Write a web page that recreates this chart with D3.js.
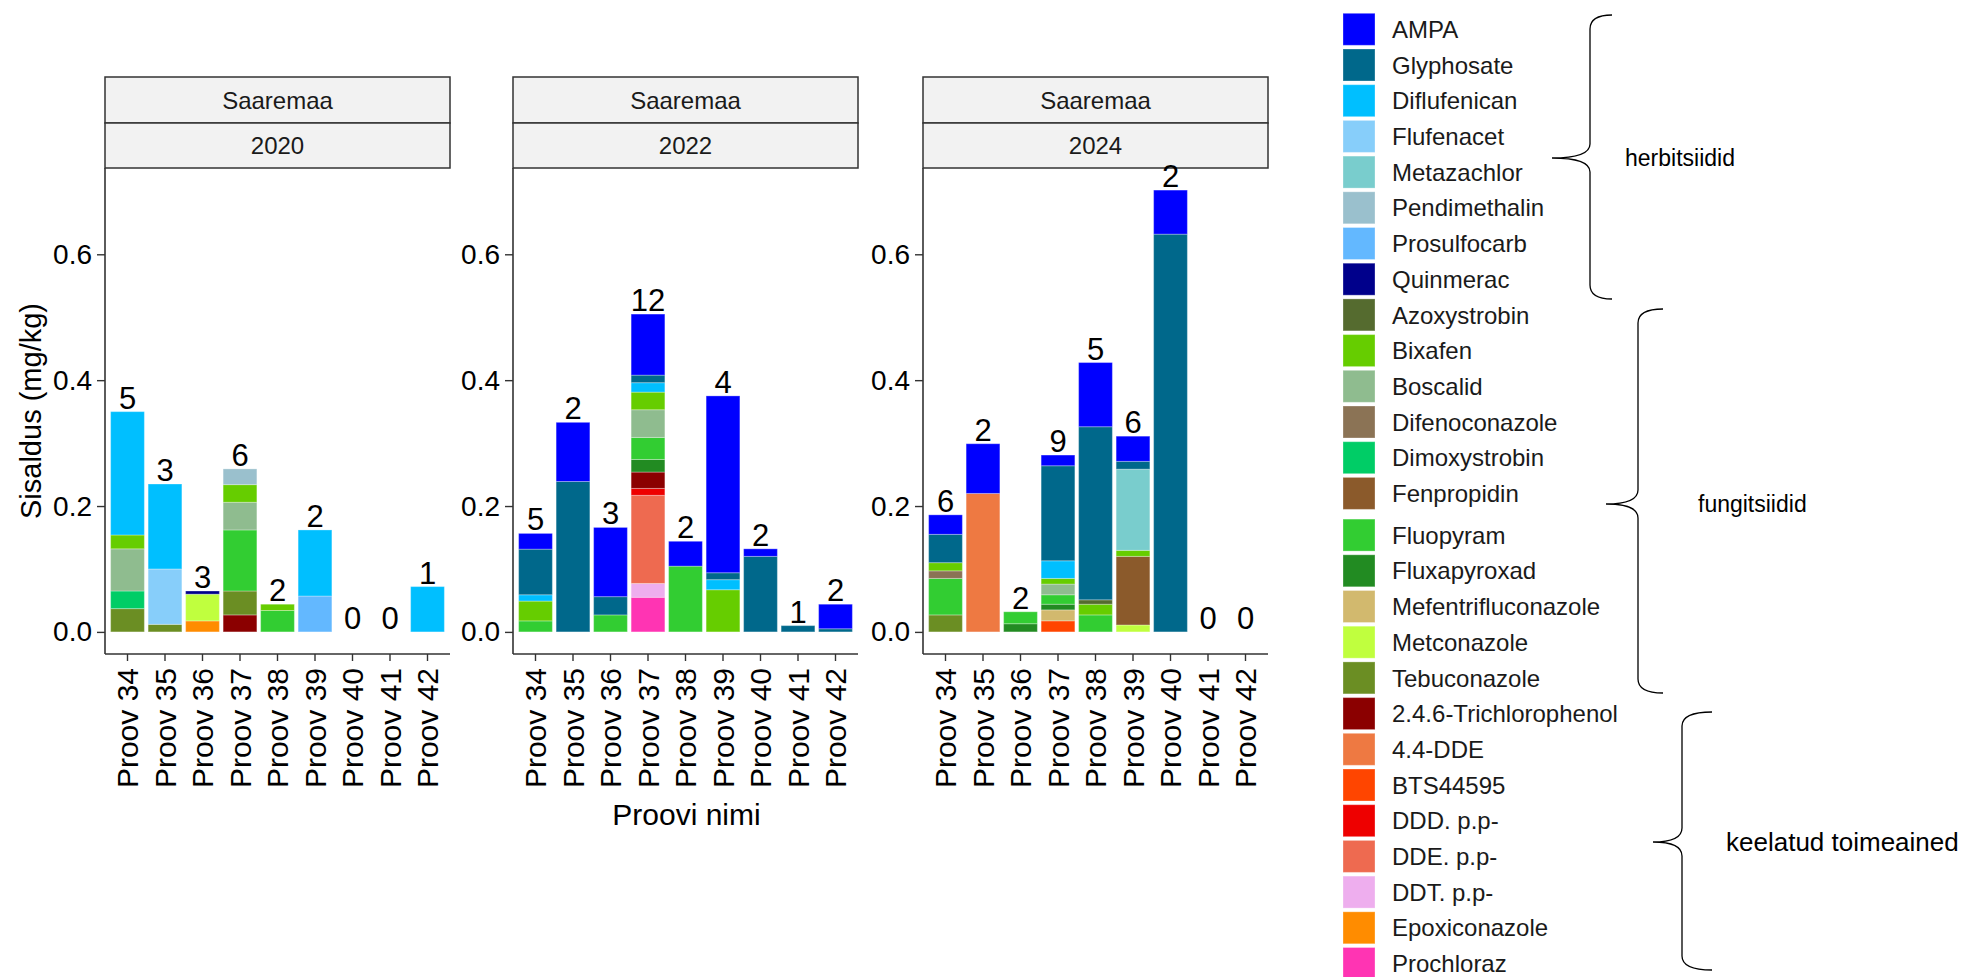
<!DOCTYPE html>
<html><head><meta charset="utf-8">
<script src="https://cdn.jsdelivr.net/npm/d3@7"></script>
<style>body{margin:0;background:#fff} svg{display:block} text{font-family:"Liberation Sans",Arial,sans-serif}</style>
</head><body><svg id="c" width="1975" height="977"></svg>
<script>
const samples = ["Proov 34","Proov 35","Proov 36","Proov 37","Proov 38","Proov 39","Proov 40","Proov 41","Proov 42"];
const region = "Saaremaa";
const years = ["2020","2022","2024"];
const compounds = ["AMPA","Glyphosate","Diflufenican","Flufenacet","Metazachlor","Pendimethalin","Prosulfocarb","Quinmerac",
  "Azoxystrobin","Bixafen","Boscalid","Difenoconazole","Dimoxystrobin","Fenpropidin","Fluopyram","Fluxapyroxad",
  "Mefentrifluconazole","Metconazole","Tebuconazole","2.4.6-Trichlorophenol","4.4-DDE","BTS44595","DDD. p.p-",
  "DDE. p.p-","DDT. p.p-","Epoxiconazole","Prochloraz"];
const colors = ["#0000FF","#00688B","#00BFFF","#87CEFA","#79CDCD","#9AC0CD","#63B8FF","#00008B",
  "#556B2F","#66CD00","#8FBC8F","#8B7355","#00CD66","#8B5A2B","#32CD32","#228B22",
  "#D2B96E","#C0FF3E","#6B8E23","#8B0000","#EE7942","#FF4500","#EE0000",
  "#EE6A50","#EEAEEE","#FF8C00","#FF34B3"];
const groupLabels = ["herbitsiidid","fungitsiidid","keelatud toimeained"];
const yTicks = [0, 0.2, 0.4, 0.6];
const yTitle = "Sisaldus (mg/kg)";
const xTitle = "Proovi nimi";

const counts2020 = [5,3,3,6,2,2,0,0,1];
const counts2022 = [5,2,3,12,2,4,2,1,2];
const counts2024 = [6,2,2,9,5,6,2,0,0];

const values2020 = [
  ["Proov 34","Tebuconazole",0.037],["Proov 34","Dimoxystrobin",0.028],["Proov 34","Boscalid",0.067],["Proov 34","Bixafen",0.022],["Proov 34","Diflufenican",0.196],
  ["Proov 35","Tebuconazole",0.012],["Proov 35","Flufenacet",0.088],["Proov 35","Diflufenican",0.135],
  ["Proov 36","Epoxiconazole",0.0175],["Proov 36","Metconazole",0.0425],["Proov 36","Quinmerac",0.005],
  ["Proov 37","2.4.6-Trichlorophenol",0.027],["Proov 37","Tebuconazole",0.038],["Proov 37","Fluopyram",0.097],["Proov 37","Boscalid",0.044],["Proov 37","Bixafen",0.028],["Proov 37","Pendimethalin",0.025],
  ["Proov 38","Fluopyram",0.034],["Proov 38","Bixafen",0.010],
  ["Proov 39","Prosulfocarb",0.057],["Proov 39","Diflufenican",0.105],
  ["Proov 42","Diflufenican",0.072]
];
const values2022 = [
  ["Proov 34","Fluopyram",0.0175],["Proov 34","Bixafen",0.0315],["Proov 34","Diflufenican",0.010],["Proov 34","Glyphosate",0.0725],["Proov 34","AMPA",0.025],
  ["Proov 35","Glyphosate",0.239],["Proov 35","AMPA",0.094],
  ["Proov 36","Fluopyram",0.027],["Proov 36","Glyphosate",0.029],["Proov 36","AMPA",0.110],
  ["Proov 37","Prochloraz",0.055],["Proov 37","DDT. p.p-",0.022],["Proov 37","DDE. p.p-",0.140],["Proov 37","DDD. p.p-",0.011],["Proov 37","2.4.6-Trichlorophenol",0.026],
  ["Proov 37","Fluxapyroxad",0.020],["Proov 37","Fluopyram",0.035],["Proov 37","Boscalid",0.044],["Proov 37","Bixafen",0.028],["Proov 37","Diflufenican",0.015],["Proov 37","Glyphosate",0.012],["Proov 37","AMPA",0.097],
  ["Proov 38","Fluopyram",0.1045],["Proov 38","AMPA",0.0395],
  ["Proov 39","Bixafen",0.067],["Proov 39","Diflufenican",0.016],["Proov 39","Glyphosate",0.011],["Proov 39","AMPA",0.281],
  ["Proov 40","Glyphosate",0.120],["Proov 40","AMPA",0.012],
  ["Proov 41","Glyphosate",0.010],
  ["Proov 42","Glyphosate",0.005],["Proov 42","AMPA",0.039]
];
const values2024 = [
  ["Proov 34","Tebuconazole",0.027],["Proov 34","Fluopyram",0.058],["Proov 34","Difenoconazole",0.012],["Proov 34","Bixafen",0.013],["Proov 34","Glyphosate",0.045],["Proov 34","AMPA",0.031],
  ["Proov 35","4.4-DDE",0.220],["Proov 35","AMPA",0.079],
  ["Proov 36","Fluxapyroxad",0.013],["Proov 36","Fluopyram",0.019],
  ["Proov 37","BTS44595",0.0176],["Proov 37","Mefentrifluconazole",0.0174],["Proov 37","Fluxapyroxad",0.009],["Proov 37","Fluopyram",0.015],["Proov 37","Boscalid",0.017],
  ["Proov 37","Bixafen",0.009],["Proov 37","Diflufenican",0.028],["Proov 37","Glyphosate",0.151],["Proov 37","AMPA",0.017],
  ["Proov 38","Fluopyram",0.027],["Proov 38","Bixafen",0.017],["Proov 38","Azoxystrobin",0.007],["Proov 38","Glyphosate",0.275],["Proov 38","AMPA",0.102],
  ["Proov 39","Metconazole",0.011],["Proov 39","Fenpropidin",0.109],["Proov 39","Bixafen",0.0096],["Proov 39","Metazachlor",0.129],["Proov 39","Glyphosate",0.0124],["Proov 39","AMPA",0.040],
  ["Proov 40","Glyphosate",0.632],["Proov 40","AMPA",0.070]
];

const panelsData = [
  {year: years[0], values: values2020, counts: counts2020},
  {year: years[1], values: values2022, counts: counts2022},
  {year: years[2], values: values2024, counts: counts2024}
];

const svg = d3.select("#c");
const color = d3.scaleOrdinal().domain(compounds).range(colors);
const stackKeys = compounds.slice().reverse();

function tableFor(vals) {
  return samples.map(s => {
    const row = {sample: s};
    compounds.forEach(c => row[c] = 0);
    vals.filter(v => v[0] === s).forEach(v => row[v[1]] += v[2]);
    return row;
  });
}
const tables = panelsData.map(p => tableFor(p.values));
const maxTotal = d3.max(tables.flat(), r => d3.sum(compounds, c => r[c]));

const plotTop = 168, plotBottom = 654, stripTop = 77, stripMid = 123;
const panelW = 345, panelLefts = [105, 513, 923];
const y = d3.scaleLinear().domain([-0.05 * maxTotal, 1.05 * maxTotal]).range([plotBottom, plotTop]);

panelsData.forEach((p, pi) => {
  const left = panelLefts[pi];
  const x = d3.scaleBand().domain(samples).range([left, left + panelW]).paddingInner(0.1).paddingOuter(0.15);
  const g = svg.append("g");
  const series = d3.stack().keys(stackKeys)(tables[pi]);
  series.forEach(ser => {
    g.selectAll(null).data(ser.filter(d => d[1] - d[0] > 0)).join("rect")
      .attr("x", d => x(d.data.sample)).attr("width", x.bandwidth())
      .attr("y", d => y(d[1])).attr("height", d => y(d[0]) - y(d[1]))
      .attr("fill", color(ser.key))
      .attr("stroke", "#ffffff").attr("stroke-opacity", 0.3).attr("stroke-width", 1);
  });
  const ya = g.append("g").attr("transform", `translate(${left},0)`)
    .call(d3.axisLeft(y).tickValues(yTicks).tickFormat(d3.format(".1f")).tickSize(8).tickPadding(5));
  ya.select(".domain").remove();
  ya.append("line").attr("x1", 0).attr("x2", 0).attr("y1", plotTop).attr("y2", plotBottom).attr("stroke", "#333").attr("stroke-width", 1.6);
  ya.selectAll(".tick line").attr("stroke", "#333").attr("stroke-width", 1.4);
  ya.selectAll(".tick text").attr("font-size", 28).attr("fill", "#000").attr("font-family", "Liberation Sans, Arial, sans-serif");
  const xa = g.append("g").attr("transform", `translate(0,${plotBottom})`)
    .call(d3.axisBottom(x).tickSize(7).tickPadding(0));
  xa.select(".domain").remove();
  xa.append("line").attr("x1", left).attr("x2", left + panelW).attr("y1", 0).attr("y2", 0).attr("stroke", "#333").attr("stroke-width", 1.6);
  xa.selectAll(".tick line").attr("stroke", "#333").attr("stroke-width", 1.4);
  xa.selectAll(".tick text").attr("font-size", 30).attr("fill", "#000")
    .attr("font-family", "Liberation Sans, Arial, sans-serif")
    .attr("text-anchor", "end").attr("transform", "rotate(-90)")
    .attr("x", -14).attr("y", 0).attr("dy", "0.36em");
  [[stripTop, stripMid, region], [stripMid, plotTop, p.year]].forEach(([t, b, txt]) => {
    g.append("rect").attr("x", left).attr("y", t).attr("width", panelW).attr("height", b - t)
      .attr("fill", "#F2F2F2").attr("stroke", "#333").attr("stroke-width", 1.5);
    g.append("text").attr("x", left + panelW / 2).attr("y", (t + b) / 2).attr("dy", "0.36em")
      .attr("text-anchor", "middle").attr("font-size", 24).attr("fill", "#1a1a1a").text(txt);
  });
  p.g = g; p.x = x;
});

panelsData.forEach((p, pi) => {
  const tot = tables[pi].map(r => d3.sum(compounds, c => r[c]));
  p.g.selectAll(null).data(samples).join("text")
    .attr("x", s => p.x(s) + p.x.bandwidth() / 2)
    .attr("y", (s, i) => y(tot[i]) - 3)
    .attr("text-anchor", "middle").attr("font-size", 31).attr("fill", "#000")
    .text((s, i) => p.counts[i]);
});

svg.append("text").attr("transform", `translate(31,${(plotTop + plotBottom) / 2}) rotate(-90)`)
  .attr("dy", "0.36em").attr("text-anchor", "middle").attr("font-size", 29).attr("fill", "#000").text(yTitle);
svg.append("text").attr("x", (panelLefts[0] + panelLefts[2] + panelW) / 2).attr("y", 814).attr("dy", "0.36em")
  .attr("text-anchor", "middle").attr("font-size", 30).attr("fill", "#000").text(xTitle);

const leg = svg.append("g");
compounds.forEach((c, i) => {
  const top = 13.3 + i * 35.7 + (i >= 14 ? 6 : 0);
  leg.append("rect").attr("x", 1343).attr("y", top).attr("width", 32).attr("height", 32)
    .attr("fill", color(c)).attr("stroke", "#ffffff").attr("stroke-opacity", 0.3);
  leg.append("text").attr("x", 1392).attr("y", top + 16).attr("dy", "0.36em")
    .attr("font-size", 24).attr("fill", "#1a1a1a").text(c);
});

function brace(xTip, xLine, xHook, yTop, yMid, yBot) {
  const r = 14;
  return `M${xHook},${yTop} Q${xLine},${yTop} ${xLine},${yTop + r} L${xLine},${yMid - r} Q${xLine},${yMid} ${xTip},${yMid}` +
    ` Q${xLine},${yMid} ${xLine},${yMid + r} L${xLine},${yBot - r} Q${xLine},${yBot} ${xHook},${yBot}`;
}
const braces = [
  [1552, 1590, 1612, 15, 158, 299, 1625, 23],
  [1606, 1638, 1663, 309, 504, 693, 1698, 23],
  [1653, 1682, 1712, 712, 842, 970, 1726, 26]
];
braces.forEach((b, i) => {
  svg.append("path").attr("d", brace(b[0], b[1], b[2], b[3], b[4], b[5]))
    .attr("fill", "none").attr("stroke", "#000").attr("stroke-width", 1.3);
  svg.append("text").attr("x", b[6]).attr("y", b[4]).attr("dy", "0.36em")
    .attr("font-family", "Roboto, sans-serif").attr("font-size", b[7]).attr("fill", "#000").text(groupLabels[i]);
});
</script></body></html>
